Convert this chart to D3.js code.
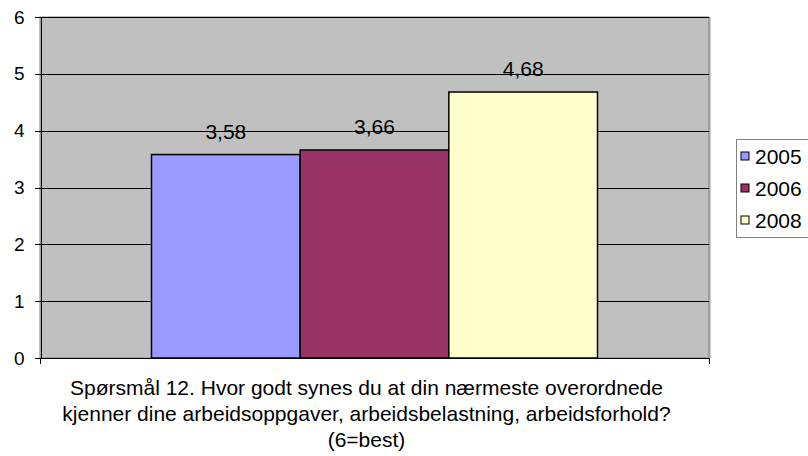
<!DOCTYPE html>
<html>
<head>
<meta charset="utf-8">
<script src="https://cdn.jsdelivr.net/npm/d3@7"></script>
<style>
  body { margin: 0; background: #fff; }
  svg text { font-family: Arial, "Liberation Sans", sans-serif; fill: #000; }
  .axis path, .axis line { stroke: #000; shape-rendering: crispEdges; }
</style>
</head>
<body>
<div id="chart"></div>
<script>
// Data
var categories = ["Spørsmål 12"];
var seriesNames = ["2005", "2006", "2008"];
var seriesValues = [3.58, 3.66, 4.68];
var valueLabels = ["3,58", "3,66", "4,68"];
var yTicks = [0, 1, 2, 3, 4, 5, 6];
var titleLines = [
    "Spørsmål 12. Hvor godt synes du at din nærmeste overordnede",
    "kjenner dine arbeidsoppgaver, arbeidsbelastning, arbeidsforhold?",
    "(6=best)"
];
var colors = ["#9999ff", "#993366", "#ffffcc"];

// Dimensions
var W = 808, H = 456;
var margin = {top: 17, right: 99, bottom: 98, left: 40},
    width = W - margin.left - margin.right,
    height = H - margin.top - margin.bottom;

var svg = d3.select("#chart")
    .append("svg")
        .attr("width", W)
        .attr("height", H)
    .append("g")
        .attr("transform", `translate(${margin.left},${margin.top})`);

// Scales
var x0 = d3.scaleBand().domain(categories).range([0, width])
    .paddingInner(0).paddingOuter(0.25);
var x1 = d3.scaleBand().domain(seriesNames).range([0, x0.bandwidth()]).padding(0);
var y = d3.scaleLinear().domain([0, 6]).range([height, 0]);

// Plot area background + shadow edge
svg.append("rect")
    .attr("x", 0).attr("y", 0)
    .attr("width", width).attr("height", height)
    .style("fill", "#c0c0c0")
    .style("stroke", "#808080")
    .style("stroke-width", 1);
svg.append("line")
    .attr("x1", width + 0.5).attr("x2", width + 0.5)
    .attr("y1", 0).attr("y2", height)
    .style("stroke", "#a0a0a0").style("stroke-width", 2);

// Grid
svg.append("g")
    .attr("class", "grid")
    .selectAll("line")
    .data(yTicks.slice(1))
    .enter().append("line")
    .attr("x1", 0).attr("x2", width)
    .attr("y1", function(d) { return Math.round(y(d)) + 0.5; })
    .attr("y2", function(d) { return Math.round(y(d)) + 0.5; })
    .style("stroke", "#000")
    .style("stroke-width", 1);

// Bars
var group = svg.append("g")
    .attr("transform", `translate(${x0(categories[0])},0)`);
group.selectAll("rect")
    .data(seriesValues)
    .enter().append("rect")
    .attr("x", function(d, i) { return x1(seriesNames[i]); })
    .attr("y", function(d) { return y(d); })
    .attr("width", x1.bandwidth())
    .attr("height", function(d) { return height - y(d); })
    .style("fill", function(d, i) { return colors[i]; })
    .style("stroke", "#000")
    .style("stroke-width", 1.5);

// Value labels
group.selectAll("text.val")
    .data(seriesValues)
    .enter().append("text")
    .attr("class", "val")
    .attr("x", function(d, i) { return x1(seriesNames[i]) + x1.bandwidth() / 2; })
    .attr("y", function(d) { return y(d) - 16; })
    .attr("text-anchor", "middle")
    .style("font-size", "21px")
    .text(function(d, i) { return valueLabels[i]; });

// Y axis
svg.append("g")
    .attr("class", "axis")
    .attr("transform", "translate(0.5,0)")
    .call(d3.axisLeft(y).tickValues(yTicks).tickSize(6).tickSizeOuter(0)
        .tickPadding(10).tickFormat(d3.format("d")))
    .selectAll("text")
    .style("font-size", "19px");

// X axis line with boundary ticks
svg.append("line")
    .attr("x1", 0).attr("x2", width + 1)
    .attr("y1", height + 0.5).attr("y2", height + 0.5)
    .style("stroke", "#000");
svg.selectAll("line.xtick")
    .data([0, width])
    .enter().append("line")
    .attr("class", "xtick")
    .attr("x1", function(d) { return d + 0.5; })
    .attr("x2", function(d) { return d + 0.5; })
    .attr("y1", height).attr("y2", height + 6)
    .style("stroke", "#000");

// Title under chart
svg.append("g")
    .selectAll("text")
    .data(titleLines)
    .enter().append("text")
    .attr("x", width / 2 - 8)
    .attr("y", function(d, i) { return height + 37 + i * 26; })
    .attr("text-anchor", "middle")
    .style("font-size", "21px")
    .text(function(d) { return d; });

// Legend
var legend = d3.select("svg").append("g")
    .attr("transform", "translate(736,139)");
legend.append("rect")
    .attr("x", 0.5).attr("y", 0.5)
    .attr("width", 80).attr("height", 98)
    .style("fill", "#fff")
    .style("stroke", "#808080");
var item = legend.selectAll("g.item")
    .data(seriesNames)
    .enter().append("g")
    .attr("class", "item")
    .attr("transform", function(d, i) { return `translate(5,${17 + i * 32})`; });
item.append("rect")
    .attr("x", 0).attr("y", -4)
    .attr("width", 8).attr("height", 8)
    .style("fill", function(d, i) { return colors[i]; })
    .style("stroke", "#000")
    .style("stroke-width", 1);
item.append("text")
    .attr("x", 14)
    .attr("dy", "0.36em")
    .style("font-size", "21px")
    .text(function(d) { return d; });
</script>
</body>
</html>
